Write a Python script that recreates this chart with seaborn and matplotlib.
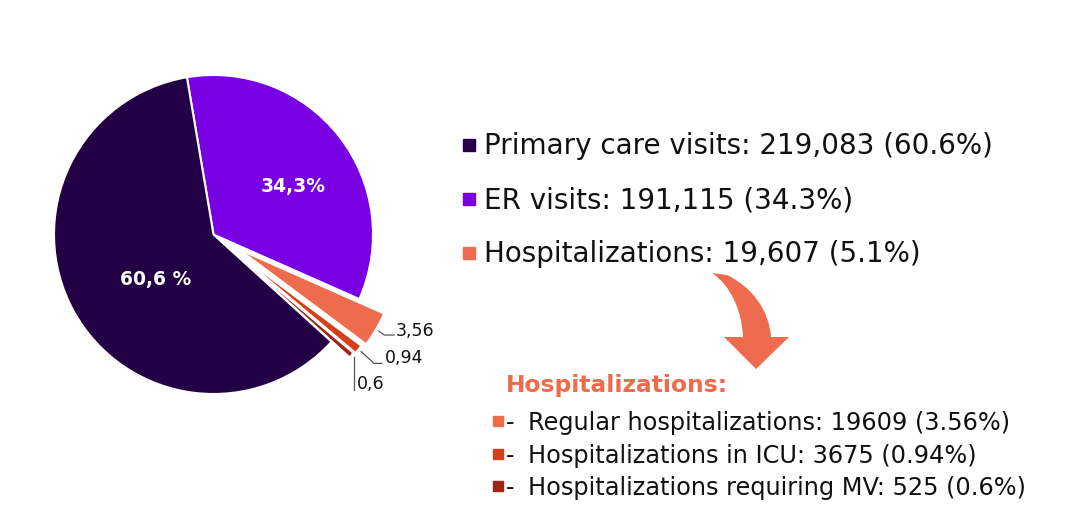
import numpy as np
import matplotlib
matplotlib.use("Agg")
import matplotlib.pyplot as plt
from matplotlib.patches import Rectangle, PathPatch
from matplotlib.path import Path
import seaborn as sns

# data
slice_names = ["ER visits", "Regular hospitalizations", "Hospitalizations in ICU",
               "Hospitalizations requiring MV", "Primary care visits"]
slice_pcts = [34.3, 3.56, 0.94, 0.6, 60.6]
slice_labels = ["34,3%", "3,56", "0,94", "0,6", "60,6 %"]

main_names = ["Primary care visits", "ER visits", "Hospitalizations"]
main_counts = ["219,083", "191,115", "19,607"]
main_pcts = ["60.6%", "34.3%", "5.1%"]

hosp_names = ["Regular hospitalizations", "Hospitalizations in ICU", "Hospitalizations requiring MV"]
hosp_counts = [19609, 3675, 525]
hosp_pcts = ["3.56%", "0.94%", "0.6%"]

sns.set_theme(style="white")
plt.rcParams["font.family"] = ["DejaVu Sans"]

palette = sns.color_palette(["#7a00e4", "#ee6c4d", "#d4401a", "#9a2812", "#230046"])
main_colors = [palette[4], palette[0], palette[1]]
hosp_colors = [palette[1], palette[2], palette[3]]

W, H = 1080, 525
fig = plt.figure(figsize=(W / 100, H / 100), dpi=100)


def fx(x):
    return x / W


def fy(y):
    return 1 - y / H


# pie axes: centre at (213.5, 234.5) px, radius 159.5 px
R = 159.5
cx, cy = 213.5, 234.5
half = 1.3 * R
ax = fig.add_axes([fx(cx - half), fy(cy + half), 2 * half / W, 2 * half / H])
wedges, _ = ax.pie(slice_pcts, colors=palette, startangle=99.6, counterclock=False,
                   explode=[0, 0.18, 0.16, 0.15, 0],
                   wedgeprops=dict(edgecolor="white", linewidth=1.5))
ax.set_xlim(-1.3, 1.3)
ax.set_ylim(-1.3, 1.3)
ax.set_aspect("equal")
ax.axis("off")

# inner labels
ax.text(0.498, 0.304, slice_labels[0], color="white", fontsize=13.5, fontweight="bold",
        ha="center", va="center")
ax.text(-0.36, -0.279, slice_labels[4], color="white", fontsize=13.5, fontweight="bold",
        ha="center", va="center")

# small slices with leader lines (offsets in px)
leader = {1: [(5.5, 4), (15.5, 4)], 2: [(13, 12), (21, 12)], 3: [(0, 33)]}
text_off = {1: (17, 5), 2: (24, 12), 3: (3, 32)}
for i in (1, 2, 3):
    w = wedges[i]
    mid = np.deg2rad((w.theta1 + w.theta2) / 2)
    x0 = w.center[0] + 1.02 * np.cos(mid)
    y0 = w.center[1] + 1.02 * np.sin(mid)
    xs = [x0] + [x0 + dx / R for dx, dy in leader[i]]
    ys = [y0] + [y0 - dy / R for dx, dy in leader[i]]
    ax.plot(xs, ys, color="#555555", lw=0.9)
    tx, ty = text_off[i]
    ax.text(x0 + tx / R, y0 - ty / R, slice_labels[i], fontsize=12.5, color="#111111",
            ha="left", va="baseline")

# main legend
row_base = [154, 208, 262]
for name, cnt, pct, col, yb in zip(main_names, main_counts, main_pcts, main_colors, row_base):
    fig.add_artist(Rectangle((fx(463), fy(yb - 3)), 12 / W, 12 / H,
                             transform=fig.transFigure, color=col))
    fig.text(fx(484), fy(yb), f"{name}: {cnt} ({pct})", fontsize=20,
             color="#111111", ha="left", va="baseline")

# curved arrow
verts = [(712, 273), (727, 275),
         (752, 287), (769, 310), (771, 337),
         (789, 337), (756, 369), (724, 337), (743, 337),
         (742, 310), (730, 285), (712, 273)]
codes = [Path.MOVETO, Path.LINETO,
         Path.CURVE4, Path.CURVE4, Path.CURVE4,
         Path.LINETO, Path.LINETO, Path.LINETO, Path.LINETO,
         Path.CURVE4, Path.CURVE4, Path.CURVE4]
arrow = Path([(fx(x), fy(y)) for x, y in verts], codes)
fig.add_artist(PathPatch(arrow, transform=fig.transFigure, facecolor="#ee6c4d",
                         edgecolor="none"))

fig.text(fx(506), fy(392), "Hospitalizations:", fontsize=16.8, fontweight="bold",
         color="#ee6c4d", ha="left", va="baseline")

hosp_base = [430, 463, 495]
for name, cnt, pct, col, yb in zip(hosp_names, hosp_counts, hosp_pcts, hosp_colors, hosp_base):
    fig.add_artist(Rectangle((fx(493), fy(yb - 4)), 10 / W, 10 / H,
                             transform=fig.transFigure, color=col))
    fig.text(fx(506), fy(yb), "-", fontsize=17, color="#111111", ha="left", va="baseline")
    fig.text(fx(528), fy(yb), f"{name}: {cnt} ({pct})", fontsize=17.3,
             color="#111111", ha="left", va="baseline")

fig.savefig("out.png", dpi=100, facecolor="white")
